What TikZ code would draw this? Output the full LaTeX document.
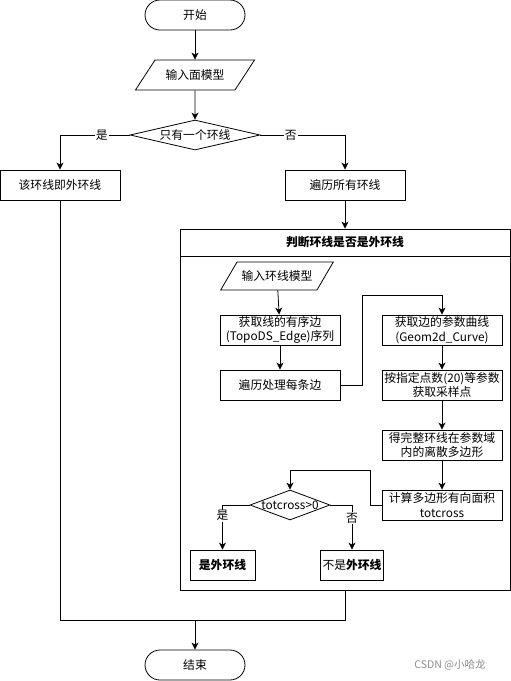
\documentclass[tikz,border=0pt]{standalone}
\usepackage{fontspec}
\setmainfont{Noto Sans CJK SC}
\usepackage{tikz}
\usetikzlibrary{shapes.geometric,arrows.meta,calc}

\begin{document}
\begin{tikzpicture}[x=1pt, y=-1pt, >={Stealth[length=7pt,width=7pt,inset=2pt]}, line width=0.8pt,
		font=\fontsize{11.8}{14.5}\selectfont,
		term/.style={draw, rounded corners=15pt, minimum width=100pt, minimum height=30pt},
		io/.style={draw, trapezium, trapezium left angle=37, trapezium right angle=143, trapezium stretches=true, minimum width=120pt, minimum height=30pt, inner sep=0pt},
		proc/.style={draw, minimum width=120pt, minimum height=30pt, align=center, inner sep=0pt},
		cond/.style={draw, diamond, minimum width=130pt, minimum height=30pt, inner sep=0pt},
		tag/.style={fill=white, inner sep=1pt}]
		\useasboundingbox (0,0) rectangle (511,681);
		\node[term] (start) at (195,15) {开始};
		\node[io] (input) at (195,75) {输入面模型};
		\node[cond] (one) at (195,135) {\makebox[0pt]{只有一个环线}};
		\node[proc] (outer) at (60,185) {该环线即外环线};
		\node[proc] (loopall) at (345,185) {遍历所有环线};
		\node[draw, minimum width=330pt, minimum height=361pt, inner sep=0pt] (group) at (345,409.5) {};
		\node[draw, anchor=north, minimum width=330pt, minimum height=27pt, inner sep=0pt] (grouptitle) at (group.north) {\textbf{判断环线是否是外环线}};
		\node[io, minimum width=113pt, minimum height=28pt] (ringin) at (277,276) {输入环线模型};
		\node[proc] (edges) at (280,330) {获取线的有序边\\(TopoDS\_Edge)序列};
		\node[proc] (each) at (280,385) {遍历处理每条边};
		\node[proc] (curve) at (442,330) {获取边的参数曲线\\(Geom2d\_Curve)};
		\node[proc] (sample) at (442,385) {按指定点数(20)等参数\\获取采样点};
		\node[proc] (poly) at (442,445) {得完整环线在参数域\\内的离散多边形};
		\node[proc] (area) at (442,505) {计算多边形有向面积\\totcross};
		\node[cond, minimum width=80pt] (sign) at (290,505) {\makebox[0pt]{totcross>0}};
		\node[proc, minimum width=65pt] (isout) at (222.5,565) {\textbf{是外环线}};
		\node[proc, minimum width=63pt] (notout) at (352,565) {不是\textbf{外环线}};
		\node[term] (end) at (195,665) {结束};
		\node[text=black!45, font=\fontsize{10.5}{12}\selectfont] (mark) at (450,665) {CSDN @小哈龙};
		\coordinate (turn) at (362,295);
		\coordinate (back) at (370,470);
		\coordinate (join) at (195,620);
		\draw[->] (start) -- (input);
		\draw[->] (input) -- (one);
		\draw[->] (one.west) -| (outer.north) node[tag, pos=0.2] {是};
		\draw[->] (one.east) -| (loopall.north) node[tag, pos=0.18] {否};
		\draw[->] (loopall) -- (group);
		\draw[->] (ringin) -- (edges);
		\draw[->] (edges) -- (each);
		\draw[->] (each.east) -| (turn) -| (curve.north);
		\draw[->] (curve) -- (sample);
		\draw[->] (sample) -- (poly);
		\draw[->] (poly) -- (area);
		\draw[->] (area.west) -| (back) -| (sign.north);
		\draw[->] (sign.west) -| (isout.north) node[tag, pos=0.62] {是};
		\draw[->] (sign.east) -| (notout.north) node[tag, pos=0.65] {否};
		\draw (outer.south) |- (join);
		\draw (group.south) |- (join);
		\draw[->] (join) -- (end);
	\end{tikzpicture}
\end{document}
